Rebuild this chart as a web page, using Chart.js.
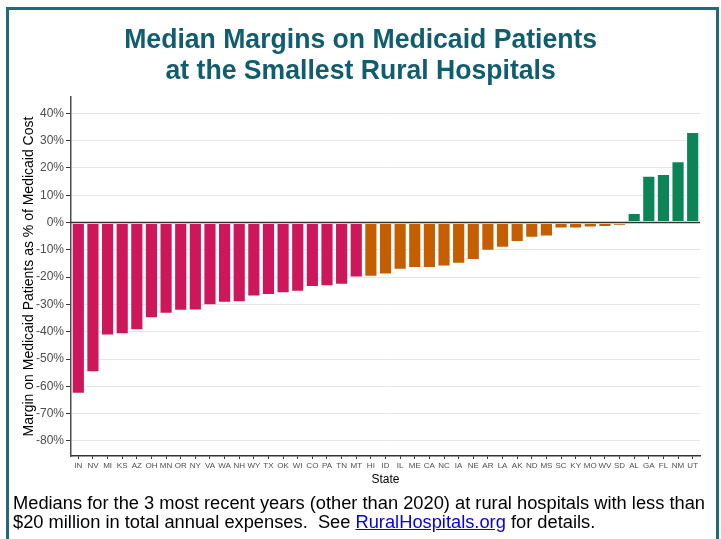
<!DOCTYPE html>
<html>
<head>
<meta charset="utf-8">
<script src="https://cdn.jsdelivr.net/npm/chart.js@4"></script>
<style>
html, body { margin: 0; padding: 0; background: #fff; }
#wrap { position: relative; width: 721px; height: 539px; overflow: hidden; font-family: "Liberation Sans", Arial, sans-serif; }
#frame { position: absolute; left: 6px; top: 7px; width: 707px; height: 600px; border: 3px solid #1d6b7c; }
#title { position: absolute; left: 0; top: 23px; width: 721px; text-align: center;
  font-family: "Liberation Sans", Arial, sans-serif; font-weight: bold;
  font-size: 28px; line-height: 31px; color: #0f5d6e; transform: scaleX(0.95); transform-origin: 364px 0; }
#note { position: absolute; left: 13px; top: 493px; font-size: 18.3px; line-height: 19px; color: #000; }
#note a { color: #0000ee; }
canvas { position: absolute; left: 0; top: 0; }
</style>
</head>
<body>
<div id="wrap">
  <div id="frame"></div>
  <canvas id="myChart" width="721" height="539"></canvas>
  <div id="title">Median Margins on Medicaid Patients<br>at the Smallest Rural Hospitals</div>
  <div id="note">Medians for the 3 most recent years (other than 2020) at rural hospitals with less than<br>$20 million in total annual expenses.&nbsp; See <a href="#">RuralHospitals.org</a> for details.</div>
</div>
<script>
const states = ['IN', 'NV', 'MI', 'KS', 'AZ', 'OH', 'MN', 'OR', 'NY', 'VA', 'WA', 'NH', 'WY', 'TX', 'OK',
  'WI', 'CO', 'PA', 'TN', 'MT', 'HI', 'ID', 'IL', 'ME', 'CA', 'NC', 'IA', 'NE', 'AR', 'LA', 'AK', 'ND',
  'MS', 'SC', 'KY', 'MO', 'WV', 'SD', 'AL', 'GA', 'FL', 'NM', 'UT'];
const margins = [-62.7, -54.8, -41.4, -40.9, -39.4, -35.0, -33.4, -32.3, -32.2, -30.3, -29.4, -29.2,
  -27.1, -26.5, -25.9, -25.3, -23.6, -23.3, -22.8, -20.1, -19.8, -19.0, -17.3, -16.6, -16.6, -16.1,
  -15.1, -13.7, -10.3, -9.2, -7.1, -5.6, -5.1, -2.2, -2.2, -1.8, -1.6, -1.2, 3.5, 17.2, 17.8, 22.5, 33.2];
const tickValues = [-80, -70, -60, -50, -40, -30, -20, -10, 0, 10, 20, 30, 40];

// crimson below -20%, orange for small losses, green for gains
function barColor(v) {
  if (v < -20) return '#ce175b';
  if (v < 0) return '#c45e00';
  return '#0b8457';
}

// redraw the zero line over the bars
const zeroLine = {
  id: 'zeroLine',
  afterDatasetsDraw(chart) {
    const { ctx, chartArea, scales } = chart;
    const y = scales.y.getPixelForValue(0);
    ctx.save();
    ctx.strokeStyle = '#333';
    ctx.lineWidth = 1.5;
    ctx.beginPath();
    ctx.moveTo(chartArea.left, y);
    ctx.lineTo(chartArea.right, y);
    ctx.stroke();
    ctx.restore();
  }
};

const ctx = document.getElementById('myChart').getContext('2d');
new Chart(ctx, {
  type: 'bar',
  data: {
    labels: states,
    datasets: [{
      data: margins,
      backgroundColor: margins.map(barColor),
      borderColor: 'rgba(255,255,255,0.55)',
      borderWidth: 1,
      borderSkipped: false,
      barPercentage: 0.9,
      categoryPercentage: 1
    }]
  },
  options: {
    responsive: false,
    animation: false,
    layout: { padding: { left: 7, right: 21, top: 97, bottom: 50 } },
    plugins: { legend: { display: false }, tooltip: { enabled: false } },
    scales: {
      x: {
        grid: { drawOnChartArea: false, offset: false, tickLength: 3, tickColor: '#333' },
        border: { color: '#333', width: 1.5 },
        ticks: { autoSkip: false, maxRotation: 0, minRotation: 0, padding: 2,
          font: { family: 'Liberation Sans', size: 8 }, color: '#4d4d4d' },
        title: { display: true, text: 'State', color: '#000',
          font: { family: 'Liberation Sans', size: 12 }, padding: { top: 0, bottom: 2 } },
        afterFit: function(scale) { scale.height = 33; }
      },
      y: {
        min: -85.5,
        max: 46,
        afterBuildTicks: function(scale) {
          scale.ticks = tickValues.map(v => ({ value: v }));
        },
        ticks: { padding: 2, color: '#4d4d4d', font: { family: 'Liberation Sans', size: 12 },
          callback: function(value) { return value + '%'; } },
        grid: {
          color: c => (c.tick && c.tick.value === 0) ? '#333' : '#e6e6e6',
          lineWidth: 1,
          tickLength: 5,
          tickColor: '#333'
        },
        border: { color: '#4d4d4d', width: 1.5 },
        title: { display: true, text: 'Margin on Medicaid Patients as % of Medicaid Cost', color: '#000',
          font: { family: 'Liberation Sans', size: 14 }, padding: { top: 14, bottom: 0 } },
        afterFit: function(scale) { scale.width = 64; }
      }
    }
  },
  plugins: [zeroLine]
});
</script>
</body>
</html>
